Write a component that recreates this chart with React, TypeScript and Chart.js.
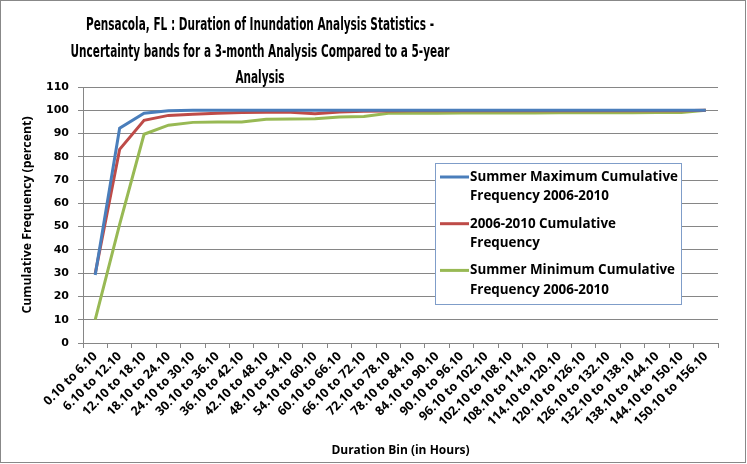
import React, { useEffect, useRef } from "react";
import { Chart, registerables } from "chart.js";

Chart.register(...registerables);

const categories = [
  "0.10 to 6.10", "6.10 to 12.10", "12.10 to 18.10", "18.10 to 24.10", "24.10 to 30.10",
  "30.10 to 36.10", "36.10 to 42.10", "42.10 to 48.10", "48.10 to 54.10", "54.10 to 60.10",
  "60.10 to 66.10", "66.10 to 72.10", "72.10 to 78.10", "78.10 to 84.10", "84.10 to 90.10",
  "90.10 to 96.10", "96.10 to 102.10", "102.10 to 108.10", "108.10 to 114.10", "114.10 to 120.10",
  "120.10 to 126.10", "126.10 to 132.10", "132.10 to 138.10", "138.10 to 144.10", "144.10 to 150.10",
  "150.10 to 156.10",
];

const summerMax = [
  29.2, 92.3, 98.7, 99.8, 100, 100, 100, 100, 100, 100, 100, 100, 100,
  100, 100, 100, 100, 100, 100, 100, 100, 100, 100, 100, 100, 100,
];

const cumulative = [
  29.8, 83.2, 95.7, 97.8, 98.3, 98.7, 99, 99.1, 99.1, 98.5, 99.3, 99.6, 99.7,
  99.8, 99.8, 99.8, 99.8, 99.8, 99.8, 99.8, 99.8, 99.8, 99.8, 99.8, 99.8, 100,
];

const summerMin = [
  10, 51, 89.7, 93.6, 94.8, 95, 95, 96.1, 96.2, 96.4, 97.1, 97.3, 98.7,
  98.7, 98.7, 98.8, 98.8, 98.8, 98.8, 98.9, 98.9, 98.9, 98.9, 99, 99, 100,
];

const yTicks = [0, 10, 20, 30, 40, 50, 60, 70, 80, 90, 100, 110];

const titleLines = [
  "Pensacola, FL : Duration of Inundation Analysis Statistics -",
  "Uncertainty bands for a 3-month Analysis Compared to a 5-year",
  "Analysis",
];

const legendEntries = [
  { lines: ["Summer Maximum Cumulative", "Frequency 2006-2010"], color: "#4a7ebb" },
  { lines: ["2006-2010 Cumulative", "Frequency"], color: "#be4b48" },
  { lines: ["Summer Minimum Cumulative", "Frequency 2006-2010"], color: "#98b954" },
];

const FONT_TITLE = "'DejaVu Sans Condensed', 'DejaVu Sans', sans-serif";
const FONT_MAIN = "'Open Sans', 'DejaVu Sans', sans-serif";

const frameTitleLegend = {
  id: "frameTitleLegend",
  beforeDraw(chart: any) {
    const ctx = chart.ctx;
    ctx.save();
    ctx.fillStyle = "#ffffff";
    ctx.fillRect(0, 0, chart.width, chart.height);
    ctx.strokeStyle = "#888888";
    ctx.lineWidth = 1;
    ctx.strokeRect(0.5, 0.5, chart.width - 2, chart.height - 2);

    // title: condensed text, centred at x = 260
    ctx.font = "bold 18px " + FONT_TITLE;
    ctx.fillStyle = "#000000";
    ctx.textAlign = "center";
    ctx.textBaseline = "alphabetic";
    const w0 = ctx.measureText(titleLines[0]).width;
    const sx = 348 / w0;
    const baselines = [30, 56.5, 82.5];
    titleLines.forEach((t, i) => {
      ctx.save();
      ctx.translate(260, baselines[i]);
      ctx.scale(sx, 1);
      ctx.fillText(t, 0, 0);
      ctx.restore();
    });
    ctx.restore();
  },
  afterDraw(chart: any) {
    const ctx = chart.ctx;
    const x = 435.5;
    const y = 163.5;
    const w = 246;
    const h = 141;
    ctx.save();
    ctx.fillStyle = "#ffffff";
    ctx.fillRect(x, y, w, h);
    ctx.strokeStyle = "#7f9dc9";
    ctx.lineWidth = 1;
    ctx.strokeRect(x, y, w, h);
    ctx.font = "bold 13.4px " + FONT_MAIN;
    ctx.textBaseline = "middle";
    ctx.fillStyle = "#000000";
    legendEntries.forEach((e, i) => {
      const ey = 177 + i * 46.7;
      ctx.strokeStyle = e.color;
      ctx.lineWidth = 3;
      ctx.beginPath();
      ctx.moveTo(440, ey);
      ctx.lineTo(469, ey);
      ctx.stroke();
      e.lines.forEach((t, j) => {
        ctx.fillText(t, 470, ey + j * 19.5);
      });
    });
    ctx.restore();
  },
};

export default function App() {
  const ref = useRef<HTMLCanvasElement>(null);

  useEffect(() => {
    document.body.style.margin = "0";
    const canvas = ref.current!;
    const chart = new Chart(canvas, {
      type: "line",
      data: {
        labels: categories,
        datasets: [
          {
            label: "Summer Maximum Cumulative Frequency 2006-2010",
            data: summerMax,
            borderColor: "#4a7ebb",
            backgroundColor: "#4a7ebb",
            borderWidth: 3,
            pointRadius: 0,
            tension: 0,
          },
          {
            label: "2006-2010 Cumulative Frequency",
            data: cumulative,
            borderColor: "#be4b48",
            backgroundColor: "#be4b48",
            borderWidth: 3,
            pointRadius: 0,
            tension: 0,
          },
          {
            label: "Summer Minimum Cumulative Frequency 2006-2010",
            data: summerMin,
            borderColor: "#98b954",
            backgroundColor: "#98b954",
            borderWidth: 3,
            pointRadius: 0,
            tension: 0,
          },
        ],
      },
      options: {
        animation: false,
        responsive: false,
        devicePixelRatio: 1,
        layout: { padding: { left: 0, right: 29, top: 87, bottom: 0 } },
        plugins: {
          legend: { display: false },
          tooltip: { enabled: false },
          title: { display: false },
        },
        scales: {
          x: {
            type: "category",
            offset: true,
            grid: {
              display: true,
              offset: true,
              drawOnChartArea: false,
              drawTicks: true,
              tickLength: 5,
              color: "#868686",
            },
            border: { display: true, color: "#868686", width: 1 },
            ticks: {
              autoSkip: false,
              maxRotation: 45,
              minRotation: 45,
              padding: 1,
              color: "#000000",
              font: { family: FONT_MAIN, size: 12.5, weight: "bold" },
            },
            title: {
              display: true,
              text: "Duration Bin (in Hours)",
              color: "#000000",
              font: { family: FONT_MAIN, size: 12, weight: "bold" },
              padding: { top: 4, bottom: 6 },
            },
            afterFit(scale: any) {
              scale.height = 121;
            },
          },
          y: {
            min: 0,
            max: 110,
            afterBuildTicks(scale: any) {
              scale.ticks = yTicks.map((v) => ({ value: v }));
            },
            grid: {
              color: "#868686",
              tickLength: 5,
              drawTicks: true,
            },
            border: { display: true, color: "#868686", width: 1 },
            ticks: {
              padding: 9,
              color: "#000000",
              font: { family: "'DejaVu Sans', sans-serif", size: 11, weight: "bold" },
            },
            title: {
              display: true,
              text: "Cumulative Frequency (percent)",
              color: "#000000",
              font: { family: FONT_MAIN, size: 12.3, weight: "bold" },
              padding: { top: 20, bottom: 0 },
            },
            afterFit(scale: any) {
              scale.width = 83;
            },
          },
        },
      },
      plugins: [frameTitleLegend],
    });
    return () => chart.destroy();
  }, []);

  return (
    <div style={{ position: "absolute", left: 0, top: 0, width: 747, height: 464 }}>
      <canvas ref={ref} width={747} height={464} style={{ width: 747, height: 464, display: "block" }} />
    </div>
  );
}
